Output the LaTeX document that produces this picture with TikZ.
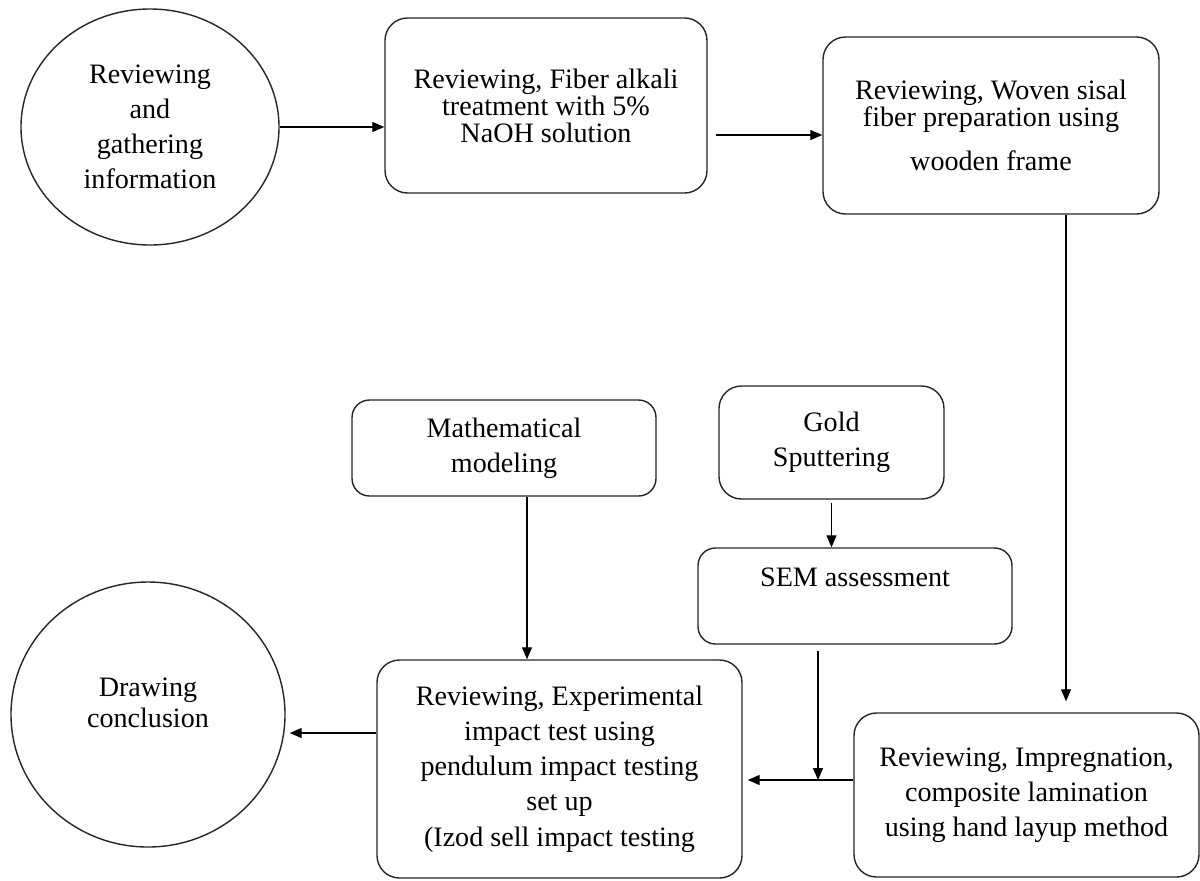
\documentclass[tikz,border=0pt]{standalone}
\usepackage{fontspec}
\setmainfont{Liberation Serif}
\usepackage{tikz}
\usetikzlibrary{shapes.geometric, arrows.meta, positioning, calc}
\tikzset{
  stepbox/.style={rectangle, draw=black!85, fill=white, align=center,
    rounded corners=0.45cm, line width=0.8pt, inner sep=0pt},
  ovalnode/.style={ellipse, draw=black!85, fill=white, align=center,
    line width=0.8pt, inner sep=0pt},
  arrow/.style={-{Triangle[length=0.24cm, width=0.2cm]}, line width=0.7pt, color=black},
  tight/.style={font=\fontsize{16}{15.4}\selectfont}
}

\begin{document}
\begin{tikzpicture}[every node/.style={font=\fontsize{16}{20}\selectfont}]
  \useasboundingbox (0,0) rectangle (24,-17.6);

  % top row
  \node[ovalnode, minimum width=5.16cm, minimum height=4.72cm] (gather) at (3.00,-2.54) {Reviewing\\and\\gathering\\information};
  \node[stepbox, tight, minimum width=6.44cm, minimum height=3.50cm] (alkali) at (10.92,-2.11) {Reviewing, Fiber alkali\\treatment with 5\%\\NaOH solution};
  \node[stepbox, tight, minimum width=6.72cm, minimum height=3.54cm] (woven) at (19.82,-2.51) {Reviewing, Woven sisal\\fiber preparation using\\[9.6pt]wooden frame};

  % middle row
  \node[stepbox, rounded corners=0.35cm, minimum width=6.08cm, minimum height=1.92cm] (model) at (10.08,-8.96) {Mathematical\\modeling};
  \node[stepbox, minimum width=4.50cm, minimum height=2.26cm] (gold) at (16.63,-8.85) {Gold\\Sputtering};
  \node[stepbox, rounded corners=0.35cm, minimum width=6.28cm, minimum height=1.92cm,
    label={[name=semtext, yshift=0.38cm]center:SEM assessment}] (sem) at (17.10,-11.92) {};

  % bottom row
  \node[stepbox, minimum width=7.30cm, minimum height=4.36cm] (impact) at (11.19,-15.38) {Reviewing, Experimental\\impact test using\\pendulum impact testing\\set up\\(Izod sell impact testing};
  \node[stepbox, minimum width=6.90cm, minimum height=3.28cm] (impreg) at (20.53,-15.90) {Reviewing, Impregnation,\\composite lamination\\using hand layup method};
  \node[ovalnode, minimum width=5.48cm, minimum height=5.30cm,
    label={[name=concltext, align=center, yshift=0.23cm, font=\fontsize{16}{17.6}\selectfont]center:Drawing\\conclusion}] (concl) at (2.96,-14.29) {};

  % tap points
  \coordinate (wovtap) at ([xshift=1.5cm]woven.south);
  \coordinate (semtap) at ([xshift=-0.74cm, yshift=-0.12cm]sem.south);
  \coordinate (modtap) at ([xshift=0.46cm]model.south);
  \coordinate (imptap) at ([yshift=0.3cm]impreg.west);
  \coordinate (exptap) at ([yshift=0.72cm]impact.west);
  \coordinate (junc) at (semtap |- imptap);

  \draw[arrow] (gather.east) -- (gather.east -| alkali.west);
  \draw[arrow] ($(alkali.east |- woven.west)+(0.16,-0.19)$) -- ([yshift=-0.19cm]woven.west);
  \draw[arrow] (wovtap) -- ($(wovtap |- impreg.north)+(0,0.22)$);
  \draw[arrow] ([yshift=-0.06cm]gold.south) -- (gold.south |- sem.north);
  \draw[arrow] (semtap) -- (junc);
  \draw[arrow] (imptap) -- ($(imptap -| impact.east)+(0.1,0)$);
  \draw[arrow] (modtap) -- (modtap |- impact.north);
  \draw[arrow] (exptap) -- ($(exptap -| concl.east)+(0.08,0)$);
\end{tikzpicture}
\end{document}
